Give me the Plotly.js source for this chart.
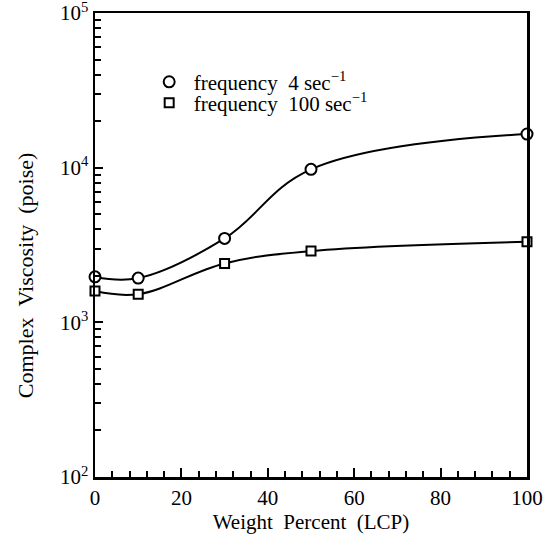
<!DOCTYPE html>
<html>
<head>
<meta charset="utf-8">
<script src="https://cdn.plot.ly/plotly-3.0.1.min.js"></script>
<style>
html,body{margin:0;padding:0;background:#fff;}
#chart{width:548px;height:549px;}
</style>
</head>
<body>
<div id="chart"></div>
<script>
// Data
const weightPercent = [0, 10, 30, 50, 100];
const viscosity4 = [1968, 1932, 3490, 9750, 16500];    // frequency 4 sec^-1
const viscosity100 = [1592, 1521, 2404, 2888, 3318];   // frequency 100 sec^-1
const seriesNames = ['frequency\u00a0\u00a04\u00a0sec<sup>\u22121</sup>', 'frequency\u00a0\u00a0100\u00a0sec<sup>\u22121</sup>'];
const yTickVals = [100, 1000, 10000, 100000];
const yTickText = ['10<sup>2</sup>', '10<sup>3</sup>', '10<sup>4</sup>', '10<sup>5</sup>'];
const xTickVals = [0, 20, 40, 60, 80, 100];
const xTickText = ['0', '20', '40', '60', '80', '100'];
const xTitle = 'Weight\u00a0\u00a0Percent\u00a0\u00a0(LCP)';
const yTitle = 'Complex\u00a0\u00a0Viscosity\u00a0\u00a0(poise)';

const FONT = '"Liberation Serif", "Times New Roman", serif';

const yMinor = [];
[100, 1000, 10000].forEach(function (d) { for (let k = 2; k <= 9; k++) yMinor.push(d * k); });

const lineStyle = {color: '#000', width: 2, shape: 'spline', smoothing: 1.1};

const traces = [
  {x: weightPercent, y: viscosity4, mode: 'lines', line: lineStyle, showlegend: false, hoverinfo: 'skip', cliponaxis: false},
  {x: weightPercent, y: viscosity100, mode: 'lines', line: lineStyle, showlegend: false, hoverinfo: 'skip', cliponaxis: false},
  {x: weightPercent, y: viscosity4, mode: 'markers', name: seriesNames[0], legend: 'legend', cliponaxis: false,
   marker: {symbol: 'circle', size: 11, color: '#fff', line: {color: '#000', width: 2}}},
  {x: weightPercent, y: viscosity100, mode: 'markers', name: seriesNames[1], legend: 'legend2', cliponaxis: false,
   marker: {symbol: 'square', size: 9, color: '#fff', line: {color: '#000', width: 2}}}
];

const legendCommon = {
  xref: 'paper', yref: 'paper', xanchor: 'left', yanchor: 'middle',
  bgcolor: 'rgba(0,0,0,0)', borderwidth: 0, itemwidth: 39,
  font: {family: FONT, size: 21, color: '#000'}
};

const layout = {
  width: 548, height: 549,
  margin: {l: 95, r: 21, t: 13, b: 72},
  paper_bgcolor: '#fff', plot_bgcolor: '#fff',
  font: {family: FONT, size: 21, color: '#000'},
  showlegend: true,
  legend: Object.assign({}, legendCommon, {x: 0.115, y: 0.851}),
  legend2: Object.assign({}, legendCommon, {x: 0.115, y: 0.806}),
  xaxis: {
    range: [0, 100], showgrid: false, zeroline: false,
    showline: true, mirror: true, linecolor: '#000', linewidth: 2.5,
    tickmode: 'array', tickvals: xTickVals, ticktext: xTickText,
    ticks: 'inside', ticklen: 9, tickwidth: 2, tickcolor: '#000',
    minor: {dtick: 4, tick0: 0, ticks: 'inside', ticklen: 6, tickwidth: 2, tickcolor: '#000', showgrid: false},
    tickfont: {family: FONT, size: 21}, ticklabeloverflow: 'allow',
    title: {text: xTitle, font: {family: FONT, size: 21}, standoff: 6}
  },
  yaxis: {
    type: 'log', range: [2, 5], showgrid: false, zeroline: false,
    showline: true, mirror: true, linecolor: '#000', linewidth: 2.5,
    tickmode: 'array', tickvals: yTickVals, ticktext: yTickText,
    ticks: 'inside', ticklen: 8, tickwidth: 2, tickcolor: '#000',
    minor: {tickmode: 'array', tickvals: yMinor, ticks: 'inside', ticklen: 6, tickwidth: 2, tickcolor: '#000', showgrid: false},
    tickfont: {family: FONT, size: 21}, ticklabeloverflow: 'allow'
  },
  annotations: [{
    text: yTitle, textangle: -90, xref: 'paper', yref: 'paper',
    x: -0.162, y: 0.435, xanchor: 'center', yanchor: 'middle', showarrow: false,
    font: {family: FONT, size: 22, color: '#000'}
  }]
};

Plotly.newPlot('chart', traces, layout, {staticPlot: true, displayModeBar: false});
</script>
</body>
</html>
